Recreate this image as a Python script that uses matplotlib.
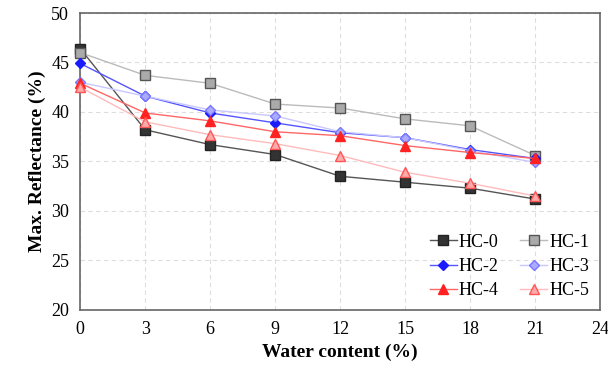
import matplotlib
matplotlib.use("Agg")
import matplotlib.pyplot as plt

plt.rcParams['font.family'] = ['Liberation Serif', 'DejaVu Serif']

water = [0, 3, 6, 9, 12, 15, 18, 21]
hc0 = [46.4, 38.2, 36.7, 35.7, 33.5, 32.9, 32.3, 31.2]
hc1 = [46.0, 43.7, 42.9, 40.8, 40.4, 39.3, 38.6, 35.6]
hc2 = [44.9, 41.6, 39.9, 38.9, 37.9, 37.4, 36.2, 35.3]
hc3 = [43.0, 41.6, 40.2, 39.6, 38.0, 37.4, 36.1, 34.9]
hc4 = [42.9, 39.9, 39.1, 38.0, 37.6, 36.6, 35.9, 35.3]
hc5 = [42.5, 39.0, 37.7, 36.8, 35.6, 33.9, 32.8, 31.5]

fig = plt.figure(figsize=(6.08, 3.72), dpi=100)
ax = fig.add_axes([0.132, 0.167, 0.855, 0.798])

kw = dict(lw=1, clip_on=False, zorder=3)
l0, = ax.plot(water, hc0, color='#555555', marker='s', ms=7, mfc='#333333', mec='#222222', label='HC-0', **kw)
l1, = ax.plot(water, hc1, color='#bbbbbb', marker='s', ms=7, mfc='#aaaaaa', mec='#555555', label='HC-1', **kw)
l2, = ax.plot(water, hc2, color='#5555ff', marker='D', ms=5.5, mfc='#1a1aff', mec='#1a1aff', label='HC-2', **kw)
l3, = ax.plot(water, hc3, color='#c8c8ff', marker='D', ms=5.5, mfc='#aaaaff', mec='#7777ff', label='HC-3', **kw)
l4, = ax.plot(water, hc4, color='#ff6666', marker='^', ms=7, mfc='#ff2222', mec='#ff2222', label='HC-4', **kw)
l5, = ax.plot(water, hc5, color='#ffbbbb', marker='^', ms=7, mfc='#ffaaaa', mec='#ff5555', label='HC-5', **kw)

ax.set_xlim(0, 24)
ax.set_ylim(20, 50)
ax.set_xticks(range(0, 25, 3))
ax.set_yticks(range(20, 51, 5))
ax.grid(True, ls=(0, (4, 3)), color='#dddddd', lw=0.8)
ax.tick_params(length=0, labelsize=13, pad=8)
for s in ax.spines.values():
    s.set_color('#666666')
    s.set_linewidth(1.2)

ax.set_xlabel('Water content (%)', fontsize=14, fontweight='bold')
ax.set_ylabel('Max. Reflectance (%)', fontsize=14, fontweight='bold')

# legend filled row by row
handles = [l0, l2, l4, l1, l3, l5]
ax.legend(handles, [h.get_label() for h in handles], ncol=2, loc='lower right',
          frameon=False, fontsize=13, handlelength=1.5, handletextpad=0.1,
          columnspacing=1.2, labelspacing=0.4, borderaxespad=0.2)

fig.savefig('out.png', dpi=100)
